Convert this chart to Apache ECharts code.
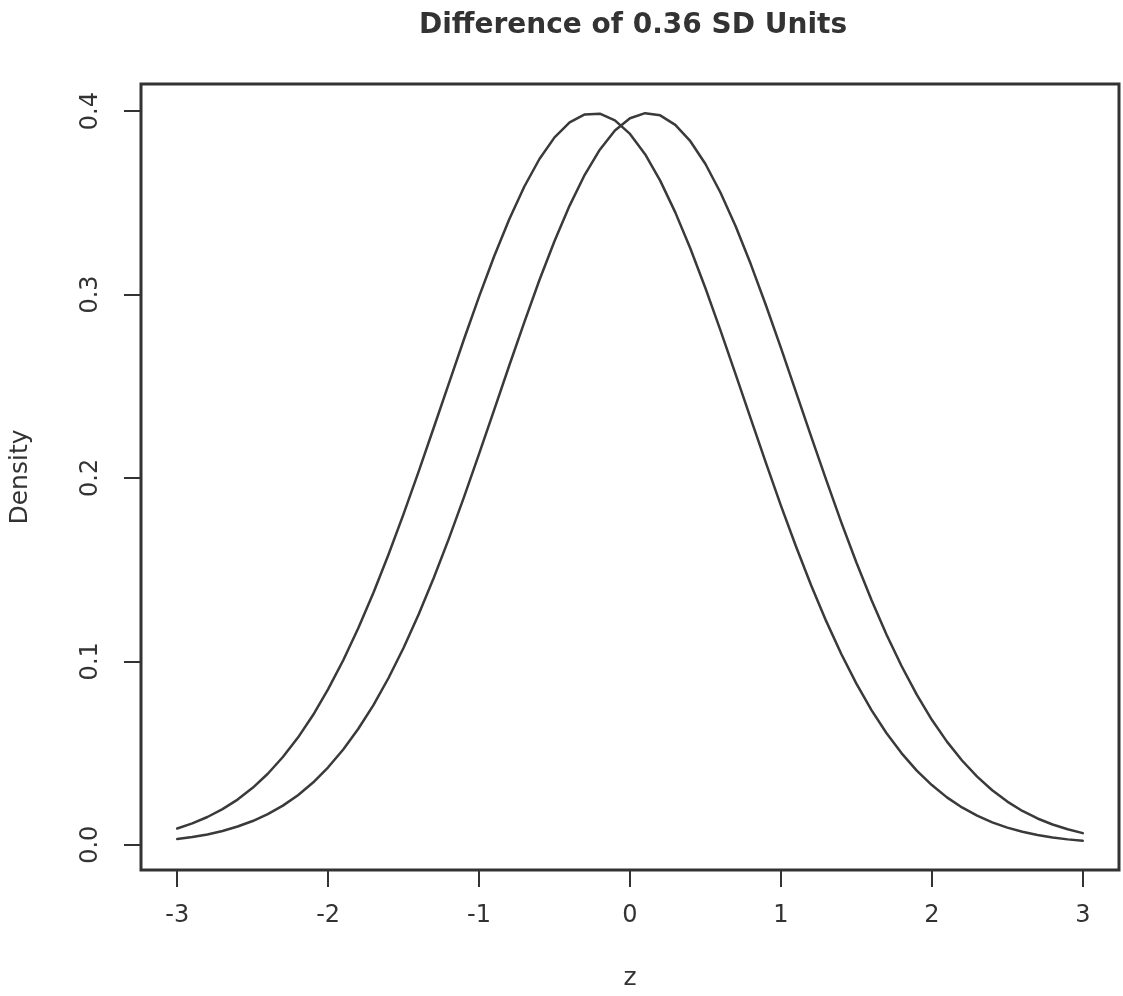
<!DOCTYPE html>
<html>
<head>
<meta charset="utf-8">
<script src="https://cdn.jsdelivr.net/npm/echarts@6/dist/echarts.min.js"></script>
<style>
html,body{margin:0;padding:0;background:#fff;}
#chart{width:1123px;height:996px;}
</style>
</head>
<body>
<div id="chart"></div>
<script>
const titleText = "Difference of 0.36 SD Units";
const xName = "z";
const yName = "Density";
const xTicks = [-3, -2, -1, 0, 1, 2, 3];
const yTicks = [0.0, 0.1, 0.2, 0.3, 0.4];
const zValues = [-3.0, -2.9, -2.8, -2.7, -2.6, -2.5, -2.4, -2.3, -2.2, -2.1, -2.0, -1.9, -1.8, -1.7, -1.6, -1.5,
  -1.4, -1.3, -1.2, -1.1, -1.0, -0.9, -0.8, -0.7, -0.6, -0.5, -0.4, -0.3, -0.2, -0.1, 0.0,
  0.1, 0.2, 0.3, 0.4, 0.5, 0.6, 0.7, 0.8, 0.9, 1.0, 1.1, 1.2, 1.3, 1.4, 1.5,
  1.6, 1.7, 1.8, 1.9, 2.0, 2.1, 2.2, 2.3, 2.4, 2.5, 2.6, 2.7, 2.8, 2.9, 3.0];
const densityLeft = [0.0088, 0.0116, 0.0151, 0.0194, 0.0246, 0.0310, 0.0387, 0.0478, 0.0584, 0.0707, 0.0848,
  0.1006, 0.1182, 0.1374, 0.1582, 0.1804, 0.2036, 0.2275, 0.2516, 0.2756, 0.2989, 0.3209, 0.3411, 0.3589,
  0.3739, 0.3857, 0.3939, 0.3982, 0.3986, 0.3950, 0.3876, 0.3765, 0.3621, 0.3448, 0.3251, 0.3034, 0.2803,
  0.2565, 0.2323, 0.2083, 0.1849, 0.1626, 0.1415, 0.1219, 0.1040, 0.0878, 0.0734, 0.0608, 0.0498, 0.0404,
  0.0325, 0.0258, 0.0203, 0.0158, 0.0122, 0.0093, 0.0071, 0.0053, 0.0039, 0.0029, 0.0021];
const densityRight = [0.0031, 0.0042, 0.0056, 0.0075, 0.0099, 0.0129, 0.0167, 0.0213, 0.0270, 0.0339, 0.0422,
  0.0519, 0.0632, 0.0761, 0.0909, 0.1074, 0.1257, 0.1456, 0.1669, 0.1895, 0.2131, 0.2371, 0.2613, 0.2850,
  0.3079, 0.3292, 0.3485, 0.3653, 0.3790, 0.3894, 0.3961, 0.3989, 0.3977, 0.3925, 0.3836, 0.3712, 0.3555,
  0.3372, 0.3166, 0.2943, 0.2709, 0.2468, 0.2227, 0.1989, 0.1758, 0.1539, 0.1334, 0.1145, 0.0973, 0.0818,
  0.0681, 0.0562, 0.0459, 0.0371, 0.0297, 0.0235, 0.0184, 0.0143, 0.0110, 0.0084, 0.0063];

const FONT = "DejaVu Sans";
const INK = "#333333";
const chart = echarts.init(document.getElementById('chart'), null, {renderer: 'canvas'});

function pairs(ys) { return zValues.map((x, i) => [x, ys[i]]); }

const lineStyle = {color: '#3a3a3a', width: 2.5, join: 'round', cap: 'round'};

chart.setOption({
  animation: false,
  backgroundColor: '#ffffff',
  title: {
    text: titleText,
    left: 414,
    top: 7,
    textStyle: {fontFamily: FONT, fontSize: 28, fontWeight: 'bold', color: INK}
  },
  grid: {
    left: 141, right: 4, top: 84, bottom: 122,
    show: true, borderColor: INK, borderWidth: 3, backgroundColor: 'transparent',
    containLabel: false
  },
  xAxis: {
    type: 'value',
    min: -3.24, max: 3.24,
    name: xName,
    nameLocation: 'middle',
    nameGap: 96,
    nameTextStyle: {fontFamily: FONT, fontSize: 25, color: INK},
    axisLine: {show: false, onZero: false},
    splitLine: {show: false},
    axisTick: {show: true, inside: false, length: 17, customValues: xTicks, lineStyle: {color: INK, width: 2}},
    axisLabel: {show: true, customValues: xTicks, margin: 34, fontFamily: FONT, fontSize: 24, color: INK,
      formatter: v => String(v)}
  },
  yAxis: {
    type: 'value',
    min: -0.0138, max: 0.4148,
    name: yName,
    nameLocation: 'middle',
    nameGap: 108,
    nameRotate: 90,
    nameTextStyle: {fontFamily: FONT, fontSize: 25, color: INK},
    axisLine: {show: false, onZero: false},
    splitLine: {show: false},
    axisTick: {show: true, inside: false, length: 17, customValues: yTicks, lineStyle: {color: INK, width: 2}},
    axisLabel: {show: true, customValues: yTicks, rotate: 90, margin: 38, fontFamily: FONT, fontSize: 24, color: INK,
      formatter: v => v.toFixed(1)}
  },
  series: [
    {type: 'line', data: pairs(densityLeft), smooth: false, showSymbol: false, lineStyle: lineStyle, silent: true},
    {type: 'line', data: pairs(densityRight), smooth: false, showSymbol: false, lineStyle: lineStyle, silent: true}
  ]
});
</script>
</body>
</html>
